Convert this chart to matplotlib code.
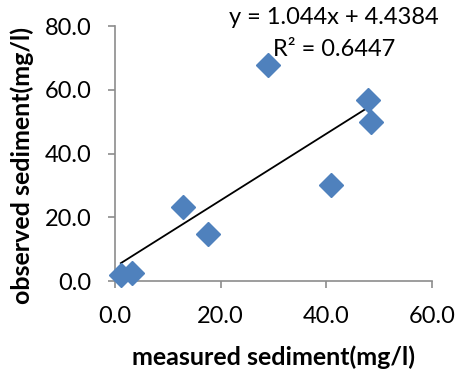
import numpy as np
from matplotlib import pyplot as plt

# values
measured = [1.1, 3.3, 12.8, 17.7, 28.9, 40.9, 47.8, 48.4]
observed = [1.8, 2.6, 23.1, 14.6, 67.7, 30.1, 56.8, 50.0]
slope, intercept, r2 = 1.044, 4.4384, 0.6447
x_ticks = [0, 20, 40, 60]
y_ticks = [0, 20, 40, 60, 80]

plt.rcParams['font.family'] = ['Lato', 'DejaVu Sans']

fig = plt.figure(figsize=(4.59, 3.72), dpi=100)
ax = fig.add_axes([0.2505, 0.2446, 0.6906, 0.6855])

ax.plot(measured, observed, linestyle='none', marker='D', markersize=12.5,
        color='#4F81BD', zorder=3, clip_on=False)

# linear trendline over the data range
xs = np.array([min(measured), max(measured)])
ax.plot(xs, slope * xs + intercept, color='black', linewidth=1.3, zorder=2)

ax.set_xlim(0, 60)
ax.set_ylim(0, 80)
ax.set_xticks(x_ticks)
ax.set_yticks(y_ticks)
ax.set_xticklabels([f"{v:.1f}" for v in x_ticks])
ax.set_yticklabels([f"{v:.1f}" for v in y_ticks])
ax.tick_params(direction='out', length=5, width=1.2, color='#8c8c8c',
               labelsize=17)
ax.tick_params(axis='x', pad=13)
ax.tick_params(axis='y', pad=12)

for side in ['top', 'right']:
    ax.spines[side].set_visible(False)
for side in ['left', 'bottom']:
    ax.spines[side].set_color('#8c8c8c')
    ax.spines[side].set_linewidth(1.2)

fig.text(0.595, 0.040, "measured sediment(mg/l)", fontsize=18, fontweight='bold',
         ha='center', va='center')
fig.text(0.048, 0.556, "observed sediment(mg/l)", fontsize=18, fontweight='bold',
         ha='center', va='center', rotation=90)

fig.text(0.728, 0.952, f"y = {slope}x + {intercept}", fontsize=17,
         ha='center', va='center')
fig.text(0.728, 0.866, f"R² = {r2}", fontsize=17, ha='center', va='center')

fig.savefig("out.png", dpi=100)
